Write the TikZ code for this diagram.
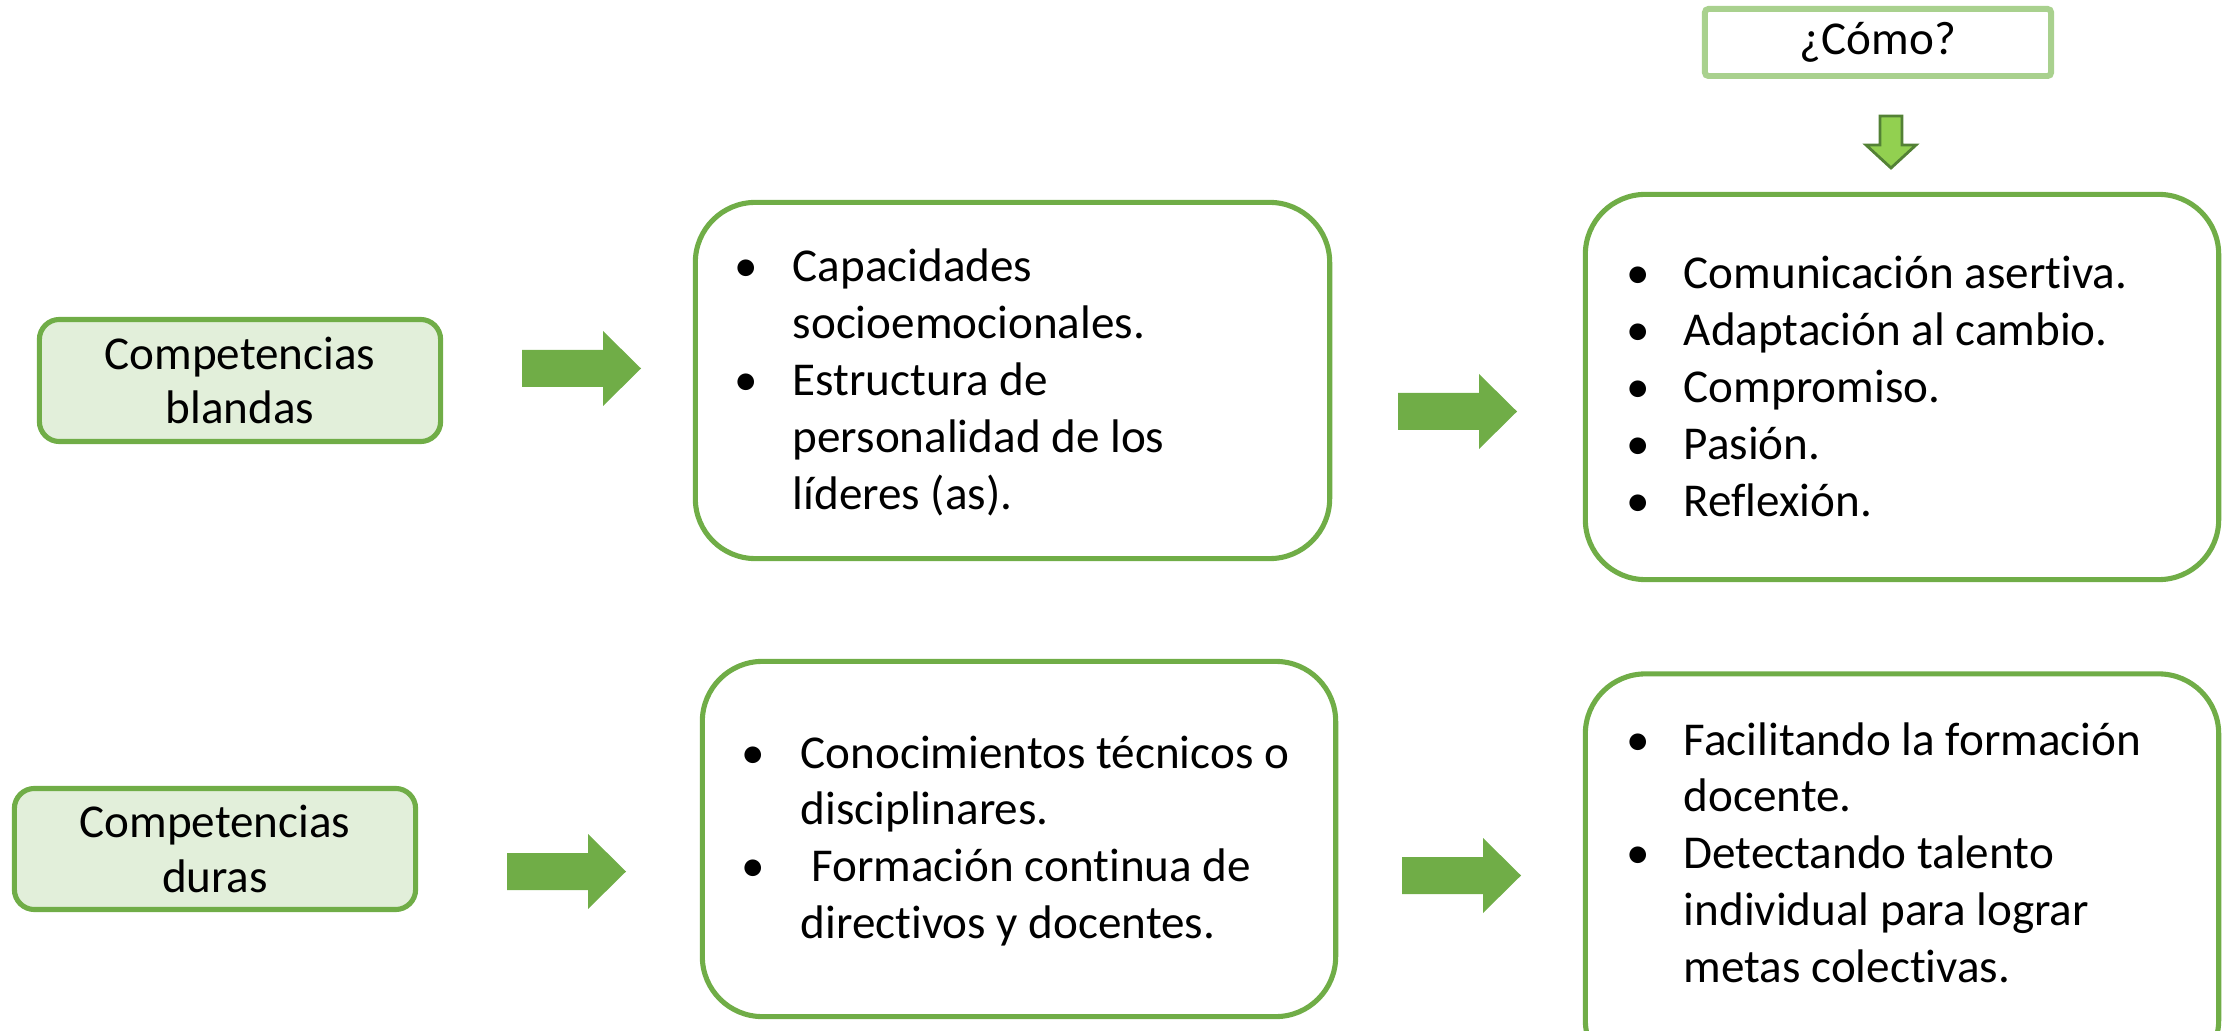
\documentclass[tikz,border=0pt]{standalone}
\usepackage{fontspec}
\setmainfont[Ligatures=NoCommon]{Carlito}
\usetikzlibrary{positioning}
\definecolor{verde}{HTML}{70AD47}
\definecolor{verdeclaro}{HTML}{A9D18E}
\definecolor{verdefondo}{HTML}{E2EFDA}
\definecolor{verdeflecha}{HTML}{92D050}
\definecolor{verdeoscuro}{HTML}{538135}
\newcommand{\bul}{\textbullet}
\begin{document}
\begin{tikzpicture}[x=0.01cm,y=-0.01cm,
  caja/.style={draw=verde,line width=1.45pt,rounded corners=0.6cm,inner sep=0pt},
  titulo/.style={draw=verde,fill=verdefondo,line width=1.45pt,rounded corners=0.2cm,
    align=center,inner sep=0pt,font=\fontsize{13.4pt}{15.6pt}\selectfont},
  lista/.style={anchor=base west,inner sep=0pt,font=\fontsize{13.4pt}{16.2pt}\selectfont},
  flecha/.pic={\fill[verde] (0,-18.5)--(81,-18.5)--(81,-37.5)--(119,0)--(81,37.5)--(81,18.5)--(0,18.5)--cycle;}]
\useasboundingbox (0,0) rectangle (2222,1031);
% cajas de la izquierda
\node[titulo,minimum width=4.01cm,minimum height=1.22cm] (blandas) at (240,380.5) {Competencias\\blandas};
\node[titulo,minimum width=4.01cm,minimum height=1.21cm] (duras) at (215,849) {Competencias\\duras};
% cajas con listas
\node[caja,minimum width=6.34cm,minimum height=3.56cm] (capac) at (1012.5,380.5) {};
\node[caja,minimum width=6.33cm,minimum height=3.85cm] (comunic) at (1902,387) {};
\node[caja,minimum width=6.33cm,minimum height=3.55cm] (conoc) at (1019,839) {};
\node[caja,minimum width=6.33cm,minimum height=4.06cm] (facil) at (1902,877) {};
\node[lista] (capac-t) at (734,282) {\begin{tabular}[t]{@{}p{0.58cm}@{}l@{}}
\bul & Capacidades\\
 & socioemocionales.\\
\bul & Estructura de\\
 & personalidad de los\\
 & líderes (as).
\end{tabular}};
\node[lista] (comunic-t) at (1626,289) {\begin{tabular}[t]{@{}p{0.57cm}@{}l@{}}
\bul & Comunicación asertiva.\\
\bul & Adaptación al cambio.\\
\bul & Compromiso.\\
\bul & Pasión.\\
\bul & Reflexión.
\end{tabular}};
\node[lista] (conoc-t) at (741,768) {\begin{tabular}[t]{@{}p{0.59cm}@{}l@{}}
\bul & Conocimientos técnicos o\\
 & disciplinares.\\
\bul & \ Formación continua de\\
 & directivos y docentes.
\end{tabular}};
\node[lista] (facil-t) at (1626,755) {\begin{tabular}[t]{@{}p{0.57cm}@{}l@{}}
\bul & Facilitando la formación\\
 & docente.\\
\bul & Detectando talento\\
 & individual para lograr\\
 & metas colectivas.
\end{tabular}};
% pregunta
\node[draw=verdeclaro,line width=1.7pt,rounded corners=1pt,minimum width=3.46cm,minimum height=0.67cm,
  inner sep=0pt,font=\fontsize{13.4pt}{16.2pt}\selectfont] (como) at (1878,42.5) {¿Cómo?};
\draw[fill=verdeflecha,draw=verdeoscuro,line width=0.8pt]
  (1880,116)--(1902,116)--(1902,145)--(1916,145)--(1891,168)--(1866,145)--(1880,145)--cycle;
% flechas
\pic at (522,368.5) {flecha};
\pic at (1398,411.5) {flecha};
\pic at (507,871.5) {flecha};
\pic at (1402,875.5) {flecha};
\end{tikzpicture}
\end{document}
